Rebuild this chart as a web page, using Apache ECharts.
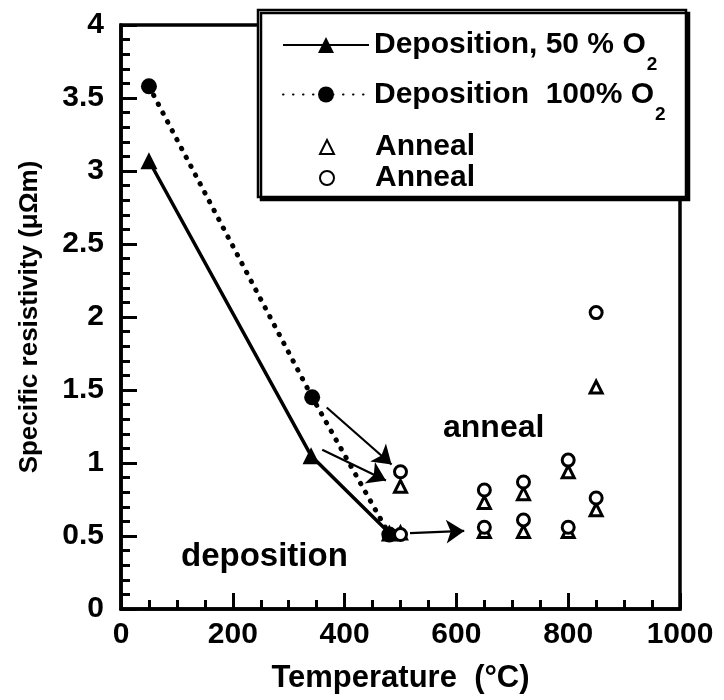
<!DOCTYPE html>
<html>
<head>
<meta charset="utf-8">
<title>Specific resistivity vs temperature</title>
<script src="https://cdn.jsdelivr.net/npm/echarts@6/dist/echarts.min.js"></script>
<style>
  html, body { margin: 0; padding: 0; background: #fff; }
  #chart { width: 724px; height: 700px; }
</style>
</head>
<body>
<div id="chart"></div>
<script>
// Deposition runs (substrate temperature in °C, resistivity in µΩm)
const dep50Temp = [50, 340, 480];
const dep50Res = [3.07, 1.05, 0.52];
const dep100Temp = [50, 342, 480];
const dep100Res = [3.58, 1.45, 0.51];

// Anneal results, two films per anneal temperature
const annealTemp = [500, 500, 650, 650, 720, 720, 800, 800, 850, 850];
const anneal50Res = [0.84, 0.52, 0.73, 0.53, 0.79, 0.53, 0.94, 0.53, 1.52, 0.68];
const anneal100Res = [0.94, 0.51, 0.815, 0.56, 0.87, 0.61, 1.02, 0.56, 2.03, 0.76];

// Arrows from the deposited state to the annealed state: [fromT, fromR, toT, toR]
const arrows = [
  [368, 1.38, 484, 0.99],
  [360, 1.09, 474, 0.88],
  [517, 0.52, 614, 0.535]
];

const xTicks = { min: 0, max: 1000, interval: 200 };
const yTicks = { min: 0, max: 4, interval: 0.5 };

const FONT = 'Liberation Sans';
const pair = (xs, ys) => xs.map((x, i) => [x, ys[i]]);

const legendNames = {
  'Deposition, 50 % O2': '{main|Deposition, 50 % O}{sub|2}',
  'Deposition 100% O2': '{main|Deposition  100% O}{sub|2}',
  'Anneal, 50 % O2': '{main|Anneal}',
  'Anneal, 100% O2': '{main|Anneal}'
};
const richMain = { fontFamily: FONT, fontWeight: 'bold', fontSize: 30, color: '#000', lineHeight: 34 };
const richSub = { fontFamily: FONT, fontWeight: 'bold', fontSize: 19, color: '#000', padding: [40, 0, 0, 1], verticalAlign: 'bottom' };

const chart = echarts.init(document.getElementById('chart'), null, { renderer: 'canvas' });

const axisCommon = {
  axisLine: { show: true, lineStyle: { color: '#000', width: 3.5 } },
  axisTick: { show: true, inside: true, length: 16, lineStyle: { color: '#000', width: 3 } },
  minorTick: { show: true, length: 9, lineStyle: { color: '#000', width: 3 } },
  splitLine: { show: false },
  axisLabel: { color: '#000', fontFamily: FONT, fontWeight: 'bold', fontSize: 30, formatter: v => String(v) },
  nameTextStyle: { color: '#000', fontFamily: FONT, fontWeight: 'bold', fontSize: 31 }
};

chart.setOption({
  animation: false,
  backgroundColor: '#fff',
  grid: {
    left: 121, right: 44, top: 25, bottom: 91,
    show: true, borderColor: '#000', borderWidth: 3.5, backgroundColor: 'transparent'
  },
  xAxis: Object.assign({}, axisCommon, {
    type: 'value',
    min: xTicks.min, max: xTicks.max, interval: xTicks.interval,
    minorTick: Object.assign({}, axisCommon.minorTick, { splitNumber: 4 }),
    axisLabel: Object.assign({}, axisCommon.axisLabel, { margin: 11 }),
    name: 'Temperature  (°C)',
    nameLocation: 'middle',
    nameGap: 54
  }),
  yAxis: Object.assign({}, axisCommon, {
    type: 'value',
    min: yTicks.min, max: yTicks.max, interval: yTicks.interval,
    minorTick: Object.assign({}, axisCommon.minorTick, { splitNumber: 5 }),
    axisLabel: Object.assign({}, axisCommon.axisLabel, { margin: 17 }),
    name: 'Specific resistivity (μΩm)',
    nameLocation: 'middle',
    nameRotate: 90,
    nameGap: 78,
    nameTextStyle: Object.assign({}, axisCommon.nameTextStyle, { fontSize: 26 })
  }),
  legend: [
    {
      data: ['Deposition, 50 % O2', 'Deposition 100% O2'],
      orient: 'vertical',
      left: 277, top: 25,
      itemWidth: 86, itemHeight: 20, itemGap: 5,
      z: 6,
      selectedMode: false,
      formatter: name => legendNames[name],
      textStyle: { rich: { main: richMain, sub: richSub } }
    },
    {
      data: ['Anneal, 50 % O2', 'Anneal, 100% O2'],
      orient: 'vertical',
      left: 314, top: 127,
      itemWidth: 14, itemHeight: 14, itemGap: 1,
      z: 6,
      selectedMode: false,
      formatter: name => legendNames[name],
      textStyle: { rich: { main: Object.assign({}, richMain, { padding: [0, 0, 0, 36] }) } }
    }
  ],
  graphic: [
    {
      type: 'rect', z: 5,
      shape: { x: 258, y: 10, width: 428, height: 187 },
      style: { fill: '#fff', stroke: '#000', lineWidth: 2.5, shadowColor: '#000', shadowOffsetX: 3, shadowOffsetY: 3, shadowBlur: 0 }
    },
    {
      type: 'text', z: 4, left: 443, top: 412,
      style: { text: 'anneal', font: 'bold 32px "Liberation Sans"', fill: '#000' }
    },
    {
      type: 'text', z: 4, left: 181, top: 540,
      style: { text: 'deposition', font: 'bold 33px "Liberation Sans"', fill: '#000' }
    }
  ],
  series: [
    {
      name: 'Deposition, 50 % O2',
      type: 'line',
      data: pair(dep50Temp, dep50Res),
      symbol: 'triangle', symbolSize: 17,
      itemStyle: { color: '#000' },
      lineStyle: { color: '#000', width: 3.5, type: 'solid' },
      z: 3
    },
    {
      name: 'Deposition 100% O2',
      type: 'line',
      data: pair(dep100Temp, dep100Res),
      symbol: 'circle', symbolSize: 16,
      itemStyle: { color: '#000' },
      lineStyle: { color: '#000', width: 5, type: [0.5, 9.5], cap: 'round' },
      z: 3,
      markLine: {
        silent: true,
        symbol: ['none', 'arrow'],
        symbolSize: 18,
        label: { show: false },
        lineStyle: { color: '#000', width: 2.2, type: 'solid', opacity: 1 },
        data: arrows.map(a => [{ coord: [a[0], a[1]] }, { coord: [a[2], a[3]] }])
      }
    },
    {
      name: 'Anneal, 50 % O2',
      type: 'scatter',
      data: pair(annealTemp, anneal50Res),
      symbol: 'triangle', symbolSize: 12,
      itemStyle: { color: '#fff', borderColor: '#000', borderWidth: 3, opacity: 1 },
      z: 3
    },
    {
      name: 'Anneal, 100% O2',
      type: 'scatter',
      data: pair(annealTemp, anneal100Res),
      symbol: 'circle', symbolSize: 12,
      itemStyle: { color: '#fff', borderColor: '#000', borderWidth: 3, opacity: 1 },
      z: 4
    }
  ]
});
</script>
</body>
</html>
